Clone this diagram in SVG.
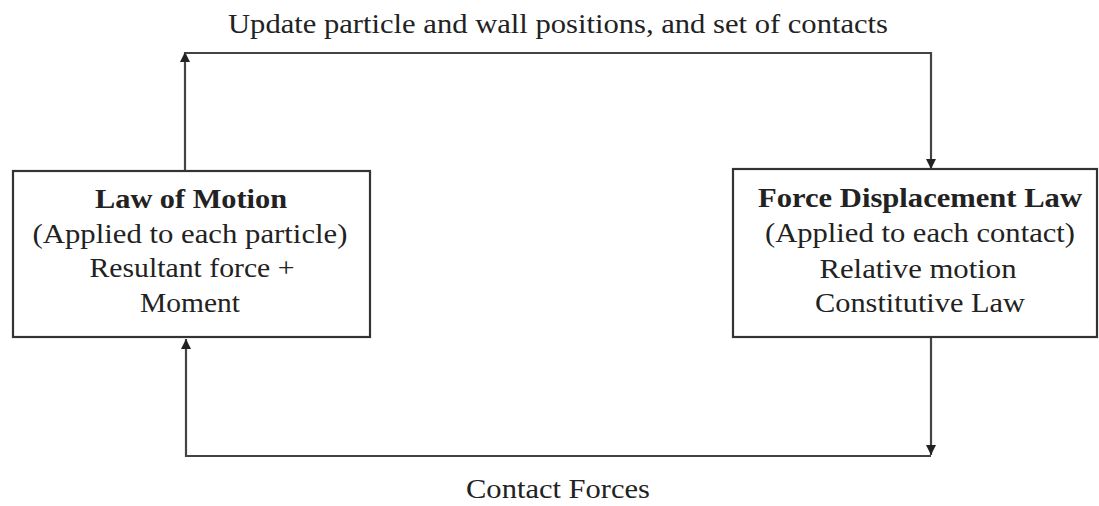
<svg xmlns="http://www.w3.org/2000/svg" width="1099" height="506" viewBox="0 0 1099 506">
<defs>
<style>
.box{fill:#fff;stroke:#333;stroke-width:2.2}
.ln{fill:none;stroke:#444;stroke-width:2.2}
.t{font-family:"Liberation Serif","Times New Roman",serif;font-size:28px;fill:#222;text-anchor:middle}
.b{font-weight:bold}
</style>
<marker id="ah" viewBox="0 0 10 10" refX="10" refY="5" markerWidth="10" markerHeight="10" markerUnits="userSpaceOnUse" orient="auto">
<path d="M0,0 L10,5 L0,10 z" fill="#222"/>
</marker>
</defs>
<rect width="1099" height="506" fill="#fff"/>
<g id="connectors">
<path class="ln" d="M185,170 L185,52" marker-end="url(#ah)"/>
<path class="ln" d="M185,53 L931,53 L931,169" marker-end="url(#ah)"/>
<path class="ln" d="M931,338 L931,455" marker-end="url(#ah)"/>
<path class="ln" d="M931,456 L186,456 L186,339" marker-end="url(#ah)"/>
<text class="t" x="558" y="33" textLength="660" lengthAdjust="spacingAndGlyphs">Update particle and wall positions, and set of contacts</text>
<text class="t" x="558" y="498" textLength="184" lengthAdjust="spacingAndGlyphs">Contact Forces</text>
</g>
<g id="law-of-motion">
<rect class="box" x="13" y="171" width="357" height="166"/>
<text class="t b" x="191" y="208" textLength="192" lengthAdjust="spacingAndGlyphs">Law of Motion</text>
<text class="t" x="190" y="243" textLength="315" lengthAdjust="spacingAndGlyphs">(Applied to each particle)</text>
<text class="t" x="192" y="277" textLength="205" lengthAdjust="spacingAndGlyphs">Resultant force +</text>
<text class="t" x="190" y="312" textLength="100" lengthAdjust="spacingAndGlyphs">Moment</text>
</g>
<g id="force-displacement-law">
<rect class="box" x="733" y="169" width="364" height="168"/>
<text class="t b" x="920" y="207" textLength="324" lengthAdjust="spacingAndGlyphs">Force Displacement Law</text>
<text class="t" x="920" y="242" textLength="310" lengthAdjust="spacingAndGlyphs">(Applied to each contact)</text>
<text class="t" x="918" y="278" textLength="197" lengthAdjust="spacingAndGlyphs">Relative motion</text>
<text class="t" x="920" y="312" textLength="210" lengthAdjust="spacingAndGlyphs">Constitutive Law</text>
</g>
</svg>
